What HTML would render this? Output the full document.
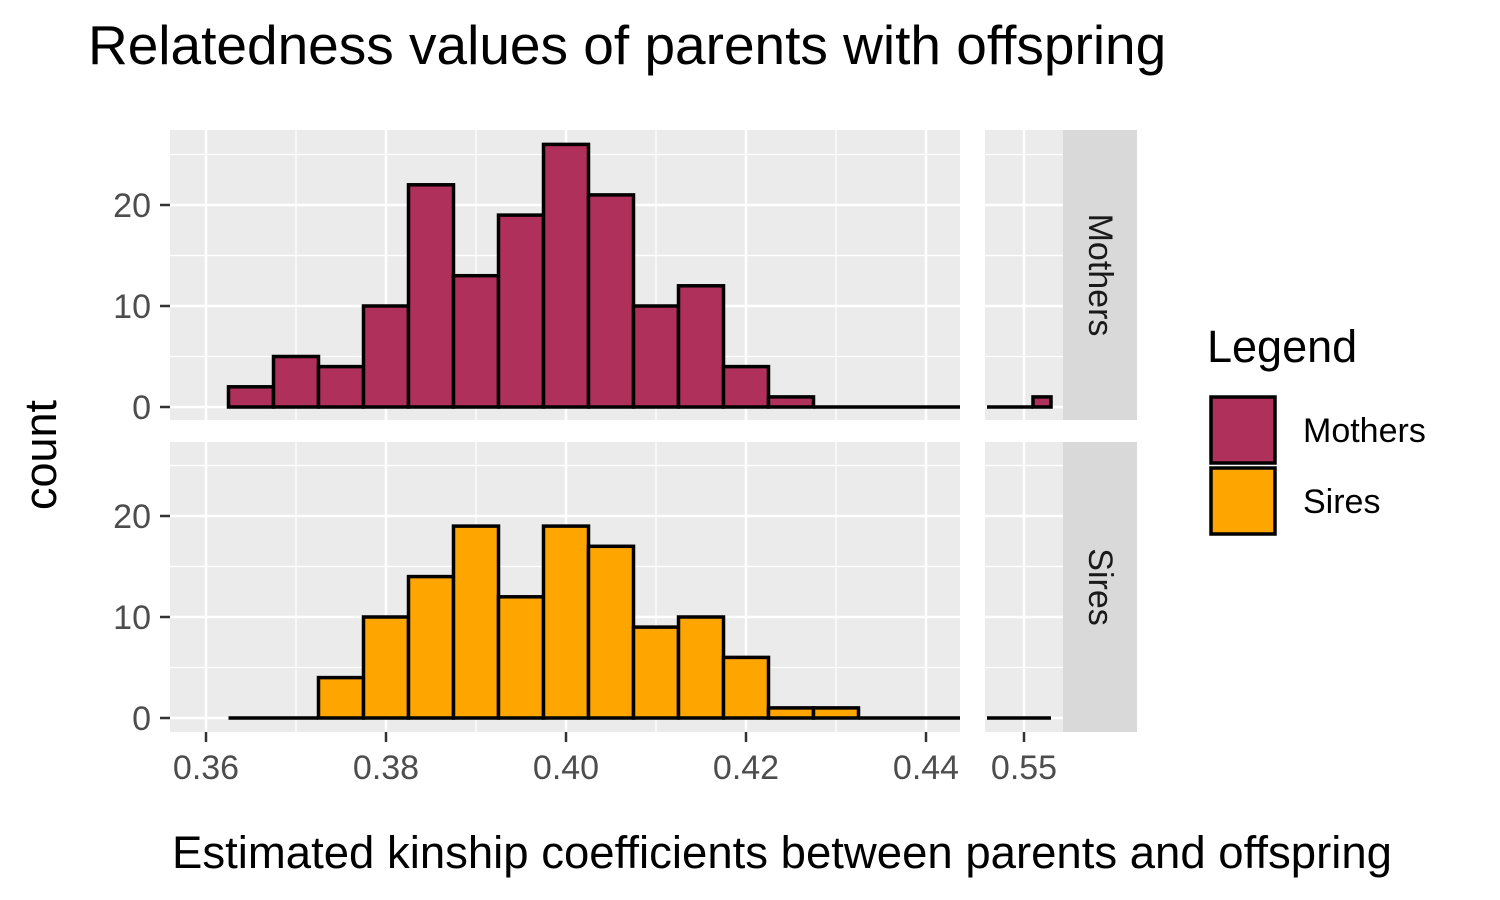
<!DOCTYPE html>
<html><head><meta charset="utf-8"><style>body{margin:0;background:#fff}svg{display:block;font-family:"Liberation Sans",Arial,sans-serif}</style></head>
<body>
<svg id="c" width="1500" height="900"></svg>
<script>
const binStarts = [0.3625,0.3675,0.3725,0.3775,0.3825,0.3875,0.3925,0.3975,0.4025,0.4075,0.4125,0.4175,0.4225,0.4275,0.4325,0.4375,0.4425];
const mothersCounts = [2,5,4,10,22,13,19,26,21,10,12,4,1,0,0,0,0];
const siresCounts = [0,0,4,10,14,19,12,19,17,9,10,6,1,1,0,0,0];
const rightBinStarts = [0.5375,0.5425,0.5475,0.5525];
const mothersRight = [0,0,0,1];
const siresRight = [0,0,0,0];
const xTicksLeft = [0.36,0.38,0.40,0.42,0.44];
const xTicksRight = [0.55];
const yTicks = [0,10,20];
const binW = 0.005;

const NS="http://www.w3.org/2000/svg", svg=document.getElementById('c');
function el(t,a,p){const e=document.createElementNS(NS,t);for(const k in a)e.setAttribute(k,a[k]);(p||svg).appendChild(e);return e;}
const xL=v=>206+(v-0.36)*9000;
const xR=v=>1024+(v-0.55)*3600;
const panels=[{name:'mothers',top:130,bot:420,y0:407,counts:mothersCounts,rc:mothersRight,fill:'#B0305C',label:'Mothers'},
              {name:'sires',top:442,bot:732,y0:718,counts:siresCounts,rc:siresRight,fill:'#FFA500',label:'Sires'}];
const defs=el('defs',{});
const cl1=el('clipPath',{id:'cl'},defs);el('rect',{x:170,y:0,width:790,height:900},cl1);
const cr1=el('clipPath',{id:'cr'},defs);el('rect',{x:985,y:0,width:78,height:900},cr1);
panels.forEach(p=>{
  const y=v=>p.y0-v*10.1;
  const bg=el('rect',{x:170,y:p.top,width:790,height:p.bot-p.top,fill:'#EBEBEB'});
  
  const bg2=el('rect',{x:985,y:p.top,width:78,height:p.bot-p.top,fill:'#EBEBEB'});
  
  [5,15,25].forEach(v=>{el('line',{x1:170,x2:960,y1:y(v),y2:y(v),stroke:'#fff','stroke-width':1.2});el('line',{x1:985,x2:1063,y1:y(v),y2:y(v),stroke:'#fff','stroke-width':1.2});});
  for(let i=0;i<xTicksLeft.length-1;i++){const m=(xTicksLeft[i]+xTicksLeft[i+1])/2;el('line',{x1:xL(m),x2:xL(m),y1:p.top,y2:p.bot,stroke:'#fff','stroke-width':1.2});}
  yTicks.forEach(v=>{el('line',{x1:170,x2:960,y1:y(v),y2:y(v),stroke:'#fff','stroke-width':2.5});el('line',{x1:985,x2:1063,y1:y(v),y2:y(v),stroke:'#fff','stroke-width':2.5});
    el('line',{x1:160,x2:170,y1:y(v),y2:y(v),stroke:'#333','stroke-width':2.5});
    const t=el('text',{x:151,y:y(v)+12,'text-anchor':'end','font-size':34,fill:'#4D4D4D'});t.textContent=v;
    });
  xTicksLeft.forEach(v=>el('line',{x1:xL(v),x2:xL(v),y1:p.top,y2:p.bot,stroke:'#fff','stroke-width':2.5}));
  xTicksRight.forEach(v=>el('line',{x1:xR(v),x2:xR(v),y1:p.top,y2:p.bot,stroke:'#fff','stroke-width':2.5}));
  const gL=el('g',{'clip-path':'url(#cl)'}),gR=el('g',{'clip-path':'url(#cr)'});
  function bar(g,x1,x2,c,nm){
    if(c>0){const r=el('rect',{x:x1,y:y(c),width:x2-x1,height:y(0)-y(c),fill:p.fill,stroke:'#000','stroke-width':3.5},g);
      }
    else{const l=el('line',{x1:x1,x2:x2,y1:y(0),y2:y(0),stroke:'#000','stroke-width':3.5},g);
      }
  }
  p.counts.forEach((c,i)=>bar(gL,xL(binStarts[i]),xL(binStarts[i]+binW),c,p.name+'-bar'));
  p.rc.forEach((c,i)=>bar(gR,Math.max(xR(rightBinStarts[i]),987),xR(rightBinStarts[i]+binW),c,p.name+'-bar-right'));
  el('rect',{x:1063,y:p.top,width:74,height:p.bot-p.top,fill:'#D9D9D9'});
  const s=el('text',{transform:`translate(1089,${(p.top+p.bot)/2}) rotate(90)`,'text-anchor':'middle','font-size':34,fill:'#1A1A1A'});s.textContent=p.label;
  
});
xTicksLeft.forEach(v=>{el('line',{x1:xL(v),x2:xL(v),y1:732,y2:742,stroke:'#333','stroke-width':2.5});
  const t=el('text',{x:xL(v),y:779,'text-anchor':'middle','font-size':34,fill:'#4D4D4D'});t.textContent=v.toFixed(2);
  });
xTicksRight.forEach(v=>{el('line',{x1:xR(v),x2:xR(v),y1:732,y2:742,stroke:'#333','stroke-width':2.5});
  const t=el('text',{x:xR(v),y:779,'text-anchor':'middle','font-size':34,fill:'#4D4D4D'});t.textContent=v.toFixed(2);
  });
</script>
<svg style="position:absolute;left:0;top:0" width="1500" height="900">
<text x="88" y="64" font-size="55" fill="#000" font-family="Liberation Sans, sans-serif">Relatedness values of parents with offspring</text>
<text x="782" y="868" font-size="45.5" text-anchor="middle" fill="#000" font-family="Liberation Sans, sans-serif">Estimated kinship coefficients between parents and offspring</text>
<text transform="translate(56,455) rotate(-90)" font-size="45" text-anchor="middle" fill="#000" font-family="Liberation Sans, sans-serif">count</text>
<text x="1207" y="362" font-size="45" fill="#000" font-family="Liberation Sans, sans-serif">Legend</text>
<rect x="1211" y="397" width="64" height="66" fill="#B0305C" stroke="#000" stroke-width="3.5"/>
<rect x="1211" y="468" width="64" height="66" fill="#FFA500" stroke="#000" stroke-width="3.5"/>
<text x="1303" y="442" font-size="34" fill="#000" font-family="Liberation Sans, sans-serif">Mothers</text>
<text x="1303" y="513" font-size="34" fill="#000" font-family="Liberation Sans, sans-serif">Sires</text>
</svg>
</body></html>
